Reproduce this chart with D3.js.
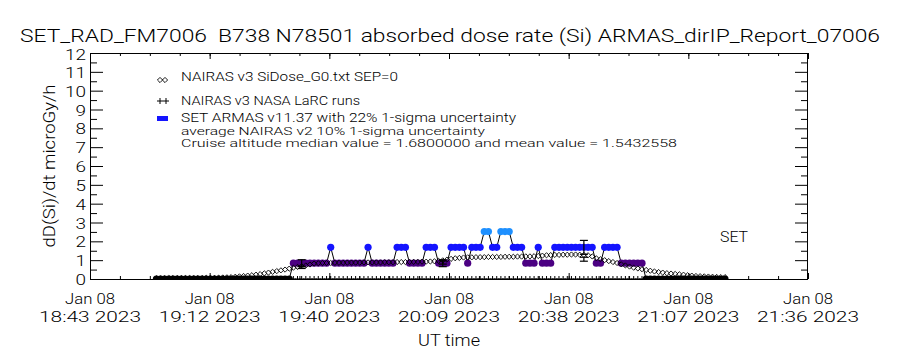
<!DOCTYPE html>
<html><head><meta charset="utf-8">
<script src="https://cdn.jsdelivr.net/npm/d3@7"></script>
<style>
body{margin:0;background:#fff}
text{font-family:Roboto,"DejaVu Sans",sans-serif;font-weight:300;fill:#000;white-space:pre}
</style>
</head><body>
<svg id="chart" width="900" height="350"></svg>
<script>
// ---------- text ----------
const titleText = "SET_RAD_FM7006  B738 N78501 absorbed dose rate (Si) ARMAS_dirIP_Report_07006";
const yAxisLabel = "dD(Si)/dt microGy/h";
const xAxisLabel = "UT time";
const yTickLabels = ["0","1","2","3","4","5","6","7","8","9","10","11","12"];
const xTickDates = ["Jan 08","Jan 08","Jan 08","Jan 08","Jan 08","Jan 08","Jan 08"];
const xTickTimes = ["18:43 2023","19:12 2023","19:40 2023","20:09 2023","20:38 2023","21:07 2023","21:36 2023"];
const legendLabels = ["NAIRAS v3 SiDose_G0.txt SEP=0","NAIRAS v3 NASA LaRC runs","SET ARMAS v11.37 with 22% 1-sigma uncertainty"];
const noteLines = ["average NAIRAS v2 10% 1-sigma uncertainty","Cruise altitude median value = 1.6800000 and mean value = 1.5432558"];
const cornerLabel = "SET";

// ---------- axes ----------
const axisStart = "2023-01-08T18:43:00Z";
const axisEnd   = "2023-01-08T21:36:00Z";
const yMax = 12;

// ---------- data: one value per minute starting at seriesStart ----------
const seriesStart = "2023-01-08T18:59:00Z";
const nairasDose = [
 0.04,0.04,0.04,0.05,0.05,0.05,0.05,0.05,0.05,0.05,0.05,0.05,0.06,0.06,0.06,
 0.07,0.08,0.09,0.10,0.12,0.14,0.16,0.18,0.20,0.23,0.26,0.30,0.34,0.38,0.42,0.46,0.50,0.55,0.60,
 0.64,0.68,0.72,0.77,0.82,0.84,0.85,
 0.85,0.85,0.86,0.86,0.86,0.87,0.87,0.87,0.87,0.88,0.88,0.88,0.88,0.88,0.89,0.89,0.89,0.90,0.90,0.90,0.90,0.91,0.91,0.92,0.92,0.93,0.94,
 0.96,0.99,1.03,1.07,1.10,1.12,1.14,
 1.15,1.15,1.16,1.16,1.16,1.17,1.17,1.17,1.17,1.18,1.18,1.18,1.19,1.19,1.20,
 1.20,1.21,1.22,1.24,1.26,
 1.27,1.28,1.28,1.29,1.29,1.30,1.30,1.29,1.28,1.26,
 1.20,1.10,1.05,1.00,0.95,0.90,0.85,0.78,0.72,0.66,0.60,0.56,0.52,0.48,0.44,0.40,0.37,0.34,0.31,0.29,
 0.27,0.25,0.23,0.20,0.18,0.16,0.15,0.14,0.13,0.12,0.11,0.10,0.10
];
const armasDose = [
 0,0,0,0,0,0,0,0,0,0,0,0,0,0,0,0,0,0,0,0,0,0,0,0,0,0,0,0,0,0,0,0,0,
 0.84,0.84,0.84,0.84,0.84,0.84,0.84,0.84,0.84,1.68,
 0.84,0.84,0.84,0.84,0.84,0.84,0.84,0.84,1.68,
 0.84,0.84,0.84,0.84,0.84,0.84,1.68,1.68,1.68,
 0.84,0.84,0.84,0.84,1.68,1.68,1.68,
 0.84,0.84,0.84,1.68,1.68,1.68,1.68,0.84,
 1.68,1.68,1.68,2.52,2.52,1.68,1.68,2.52,2.52,2.52,1.68,1.68,1.68,
 0.84,0.84,0.84,1.68,0.84,0.84,0.84,
 1.68,1.68,1.68,1.68,1.68,1.68,1.68,1.68,1.68,1.68,
 0.84,0.84,1.68,1.68,1.68,1.68,
 0.84,0.84,0.84,0.84,0.84,0.84,
 0,0,0,0,0,0,0,0,0,0,0,0,0,0,0,0,0,0,0,0
];
const larcDose = [
 0,0,0,0,0,0,0,0,0,0,0,0,0,0,0,0,0,0,0,0,0,0,0,0,0,0,0,0,0,0,0,0,0,0,0,0,0,0,0,0,0,0,0,0,0,0,
 0,0,0,0,0,0,0,0,0,0,0,0,0,0,0,0,0,0,0,0,0,0,0,0,0,0,0,0,0,0,0,0,0,0,0,0,0,0,0,0,0,0,0,0,0,0,
 0,0,0,0,0,0,0,0,0,0,0,0,0,0,0,0,0,0,0,0,0,0,0,0,0,0,0,0,0,0,0,0,0,0,0,0,0,0,0,0,0,0,0,0,0,0
];
// uncertainty markers
const errTimes = ["2023-01-08T19:34:00Z","2023-01-08T20:08:00Z","2023-01-08T20:42:00Z"];
const errArmas = [0.84,0.84,1.68];
const errNairasV2 = [0.62,0.88,1.05];
const armasSigma = 0.22, nairasSigma = 0.10;

// ---------- layout ----------
const M = {left:90, right:808, top:53, bottom:279};
const svg = d3.select("#chart");
const t0 = new Date(axisStart), t1 = new Date(axisEnd), ts = new Date(seriesStart);
const minute = i => new Date(ts.getTime() + i*60000);
const x = d3.scaleUtc().domain([t0,t1]).range([M.left,M.right]);
const y = d3.scaleLinear().domain([0,yMax]).range([M.bottom,M.top]);

svg.append("defs").append("clipPath").attr("id","clip")
  .append("rect").attr("x",M.left).attr("y",M.top).attr("width",M.right-M.left).attr("height",M.bottom-M.top);

// title
svg.append("text").attr("x",450).attr("y",41.5).attr("text-anchor","middle")
  .attr("font-size",18).attr("textLength",860).attr("lengthAdjust","spacingAndGlyphs").text(titleText);

// axes
const majorX = d3.range(xTickTimes.length).map(i => new Date(t0.getTime() + i*(t1-t0)/(xTickTimes.length-1)));
const minorX = d3.range((xTickTimes.length-1)*4+1).map(i => new Date(t0.getTime() + i*(t1-t0)/((xTickTimes.length-1)*4)));
const axG = svg.append("g");
function drawAxis(gen, tr){
  const g = axG.append("g").attr("transform",tr).call(gen);
  g.select(".domain").remove(); g.selectAll("text").remove();
  g.selectAll("line").attr("stroke","#000").attr("stroke-width",1);
}
drawAxis(d3.axisTop(x).tickValues(minorX).tickSize(3), `translate(0,${M.bottom})`);
drawAxis(d3.axisTop(x).tickValues(majorX).tickSize(6), `translate(0,${M.bottom})`);
drawAxis(d3.axisBottom(x).tickValues(minorX).tickSize(3), `translate(0,${M.top})`);
drawAxis(d3.axisBottom(x).tickValues(majorX).tickSize(6), `translate(0,${M.top})`);
const yMaj = d3.range(0,yMax+1), yMin = d3.range(0.5,yMax,1);
drawAxis(d3.axisRight(y).tickValues(yMaj).tickSize(13), `translate(${M.left},0)`);
drawAxis(d3.axisRight(y).tickValues(yMin).tickSize(7), `translate(${M.left},0)`);
drawAxis(d3.axisLeft(y).tickValues(yMaj).tickSize(13), `translate(${M.right},0)`);
drawAxis(d3.axisLeft(y).tickValues(yMin).tickSize(7), `translate(${M.right},0)`);
svg.append("rect").attr("x",M.left+0.5).attr("y",M.top+0.5).attr("width",M.right-M.left-1).attr("height",M.bottom-M.top)
  .attr("fill","none").attr("stroke","#000").attr("stroke-width",1);

// y tick labels
svg.append("g").selectAll("text").data(yTickLabels).join("text")
  .attr("x",86).attr("y",(d,i)=>y(yMaj[i])+(i===yMax?7:6)).attr("text-anchor","end").attr("font-size",14.5)
  .attr("textLength",d=>d.length*10.5).attr("lengthAdjust","spacingAndGlyphs").text(d=>d);
// x tick labels
const xl = svg.append("g");
xl.selectAll("text.d").data(xTickDates).join("text").attr("class","d")
  .attr("x",(d,i)=>x(majorX[i])).attr("y",304).attr("text-anchor","middle").attr("font-size",15)
  .attr("textLength",50).attr("lengthAdjust","spacingAndGlyphs").text(d=>d);
xl.selectAll("text.t").data(xTickTimes).join("text").attr("class","t")
  .attr("x",(d,i)=>x(majorX[i])).attr("y",322).attr("text-anchor","middle").attr("font-size",15)
  .attr("textLength",102).attr("lengthAdjust","spacingAndGlyphs").text(d=>d);
svg.append("text").attr("x",449).attr("y",346).attr("text-anchor","middle").attr("font-size",16)
  .attr("textLength",62).attr("lengthAdjust","spacingAndGlyphs").text(xAxisLabel);
svg.append("text").attr("transform","translate(55,166) rotate(-90)").attr("text-anchor","middle").attr("font-size",16)
  .attr("textLength",163).attr("lengthAdjust","spacingAndGlyphs").text(yAxisLabel);

// plot content
const plot = svg.append("g").attr("clip-path","url(#clip)");
const armasColor = d3.scaleThreshold().domain([0.42,1.26,2.1]).range(["#000000","#4b0082","#1414ff","#1e90ff"]);

plot.append("path").datum(armasDose)
  .attr("d", d3.line().x((d,i)=>x(minute(i))).y(d=>y(d)))
  .attr("fill","none").attr("stroke","#000").attr("stroke-width",1);
plot.append("g").selectAll("circle").data(armasDose).join("circle")
  .attr("cx",(d,i)=>x(minute(i))).attr("cy",d=>y(d)).attr("r",3.6).attr("fill",d=>armasColor(d));

const diamond = "M0,-2.6L2.6,0L0,2.6L-2.6,0Z";
plot.append("g").selectAll("path").data(nairasDose).join("path")
  .attr("transform",(d,i)=>`translate(${x(minute(i))},${y(d)})`).attr("d",diamond)
  .attr("fill","none").attr("stroke","#000").attr("stroke-width",0.9);

const plus = "M-3,0H3M0,-3V3";
plot.append("g").selectAll("path").data(larcDose).join("path")
  .attr("transform",(d,i)=>`translate(${x(minute(i))},${y(d)})`).attr("d",plus)
  .attr("fill","none").attr("stroke","#000").attr("stroke-width",1);

function errBar(g, t, v, s, w){
  const cx = x(new Date(t)), lo = y(v*(1-s)), hi = y(v*(1+s));
  g.append("line").attr("x1",cx).attr("x2",cx).attr("y1",lo).attr("y2",hi);
  g.append("line").attr("x1",cx-w).attr("x2",cx+w).attr("y1",lo).attr("y2",lo);
  g.append("line").attr("x1",cx-w).attr("x2",cx+w).attr("y1",hi).attr("y2",hi);
}
const eg = plot.append("g").attr("stroke","#000").attr("stroke-width",1.2);
errTimes.forEach((t,i)=>{ errBar(eg,t,errArmas[i],armasSigma,4); errBar(eg,t,errNairasV2[i],nairasSigma,4); });

// legend
const lg = svg.append("g");
lg.append("path").attr("d",diamond).attr("transform","translate(160,80)").attr("fill","none").attr("stroke","#000").attr("stroke-width",0.9);
lg.append("path").attr("d",diamond).attr("transform","translate(165,80)").attr("fill","none").attr("stroke","#000").attr("stroke-width",0.9);
lg.append("path").attr("d",plus).attr("transform","translate(160,101)").attr("stroke","#000").attr("fill","none");
lg.append("path").attr("d",plus).attr("transform","translate(166,101)").attr("stroke","#000").attr("fill","none");
lg.append("rect").attr("x",157).attr("y",116).attr("width",11).attr("height",5).attr("fill","#1414ff");
const legY = [81,105,122], legW = [217,179,335];
lg.selectAll("text.l").data(legendLabels).join("text").attr("class","l")
  .attr("x",181).attr("y",(d,i)=>legY[i]).attr("font-size",13.5)
  .attr("textLength",(d,i)=>legW[i]).attr("lengthAdjust","spacingAndGlyphs").text(d=>d);
const noteY = [134.5,147], noteW = [304,496];
lg.selectAll("text.n").data(noteLines).join("text").attr("class","n")
  .attr("x",181).attr("y",(d,i)=>noteY[i]).attr("font-size",11.5)
  .attr("textLength",(d,i)=>noteW[i]).attr("lengthAdjust","spacingAndGlyphs").text(d=>d);
svg.append("text").attr("x",720).attr("y",242).attr("font-size",14)
  .attr("textLength",28).attr("lengthAdjust","spacingAndGlyphs").text(cornerLabel);
</script>
</body></html>
